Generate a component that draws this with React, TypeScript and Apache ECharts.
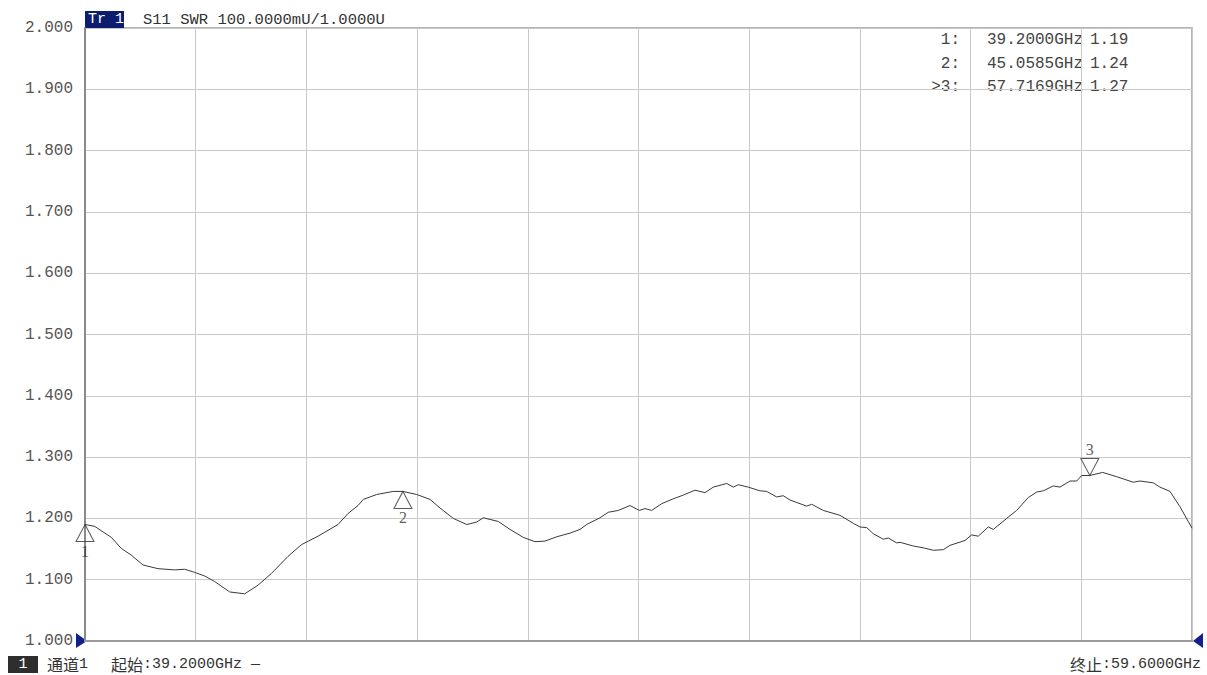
import React, { useEffect, useRef } from "react";
import * as echarts from "echarts";

// Trace: frequency (GHz) and SWR values
const freqs = [
  39.2, 39.379, 39.532, 39.685, 39.869, 40.053, 40.269, 40.545, 40.853, 41.037,
  41.222, 41.406, 41.59, 41.867, 42.143, 42.388, 42.633, 42.941, 43.186, 43.494,
  43.862, 44.047, 44.231, 44.329, 44.575, 44.881, 45.0585, 45.313, 45.558, 45.742,
  45.987, 46.234, 46.418, 46.54, 46.816, 47.032, 47.277, 47.493, 47.677, 47.892,
  48.138, 48.322, 48.445, 48.69, 48.843, 49.028, 49.243, 49.415, 49.52, 49.643,
  49.827, 50.041, 50.225, 50.441, 50.625, 50.778, 51.025, 51.147, 51.239, 51.423,
  51.639, 51.762, 51.947, 52.068, 52.192, 52.499, 52.592, 52.805, 53.113, 53.358,
  53.482, 53.605, 53.727, 53.911, 54.003, 54.158, 54.219, 54.464, 54.648, 54.832,
  55.017, 55.14, 55.417, 55.54, 55.662, 55.846, 55.938, 56.185, 56.369, 56.583,
  56.738, 56.86, 57.044, 57.167, 57.352, 57.475, 57.567, 57.7169, 57.954, 58.212,
  58.518, 58.642, 58.887, 59.01, 59.194, 59.379, 59.6,
];
const swr = [
  1.19, 1.187, 1.178, 1.169, 1.151, 1.14, 1.124, 1.118, 1.116, 1.117,
  1.112, 1.106, 1.097, 1.08, 1.077, 1.091, 1.11, 1.138, 1.157, 1.171,
  1.19, 1.208, 1.221, 1.231, 1.239, 1.244, 1.244, 1.239, 1.231, 1.217,
  1.2, 1.19, 1.194, 1.201, 1.195, 1.182, 1.169, 1.162, 1.163, 1.17,
  1.176, 1.182, 1.19, 1.201, 1.21, 1.213, 1.221, 1.213, 1.216, 1.213,
  1.224, 1.232, 1.238, 1.246, 1.242, 1.251, 1.257, 1.251, 1.255, 1.251,
  1.245, 1.244, 1.235, 1.237, 1.23, 1.22, 1.223, 1.213, 1.205, 1.192,
  1.186, 1.185, 1.175, 1.166, 1.168, 1.16, 1.161, 1.155, 1.152, 1.148,
  1.149, 1.156, 1.164, 1.173, 1.171, 1.186, 1.182, 1.2, 1.213, 1.234,
  1.243, 1.245, 1.253, 1.251, 1.261, 1.261, 1.27, 1.27, 1.275, 1.268,
  1.259, 1.261, 1.258, 1.251, 1.244, 1.219, 1.184,
];

// Markers
const markerIds = ["1", "2", "3"];
const markerFreqs = [39.2, 45.0585, 57.7169];
const markerSwr = [1.19, 1.244, 1.27];
const markerDown = [false, false, true];
const activeMarker = 2;

// Axis settings
const startFreq = 39.2;
const stopFreq = 59.6;
const yMin = 1.0;
const yMax = 2.0;
const yStep = 0.1;
const xDivisions = 10;

const MONO = "'Liberation Mono', 'Noto Sans CJK SC', monospace";
const CJK = "'Noto Sans CJK SC', sans-serif";

export default function App() {
  const ref = useRef<HTMLDivElement>(null);

  useEffect(() => {
    if (!ref.current) return;
    const chart = echarts.init(ref.current, null, { renderer: "svg" });

    const gridLeft = 85;
    const gridTop = 28;
    const gridRight = 15;
    const gridBottom = 34;
    const W = 1207;
    const H = 675;
    const plotRight = W - gridRight;
    const plotBottom = H - gridBottom;

    const trace = freqs.map((f, i) => [f, swr[i]]);

    const markerData = markerFreqs.map((f, i) => ({
      value: [f, markerSwr[i]],
      name: markerIds[i],
      symbol: markerDown[i]
        ? "path://M0,0L18,0L9,17Z"
        : "path://M9,0L18,17L0,17Z",
      symbolOffset: [0, markerDown[i] ? -8.5 : 8.5],
      label: {
        position: markerDown[i] ? "top" : "bottom",
        distance: 1,
      },
    }));

    // Marker readout table
    const tableTexts: any[] = [];
    markerIds.forEach((id, i) => {
      const y = 40 + i * 23.5;
      const base = { verticalAlign: "middle", font: `16px ${MONO}`, fill: "#444" };
      tableTexts.push({
        type: "text",
        x: 960,
        y,
        style: { ...base, text: (i === activeMarker ? ">" : "") + id + ":", align: "right" },
      });
      tableTexts.push({
        type: "text",
        x: 987,
        y,
        style: { ...base, text: markerFreqs[i].toFixed(4) + "GHz", align: "left" },
      });
      tableTexts.push({
        type: "text",
        x: 1090,
        y,
        style: { ...base, text: markerSwr[i].toFixed(2), align: "left" },
      });
    });

    const richStyle = {
      c: { fontFamily: CJK, fontSize: 16, lineHeight: 16, fill: "#333", color: "#333" },
      m: { fontFamily: MONO, fontSize: 15, lineHeight: 16, fill: "#333", color: "#333" },
    };

    const option: any = {
      animation: false,
      backgroundColor: "#ffffff",
      grid: {
        left: gridLeft,
        top: gridTop,
        right: gridRight,
        bottom: gridBottom,
        show: true,
        borderColor: "#9a9a9a",
        borderWidth: 1.5,
      },
      xAxis: [
        {
          type: "value",
          min: startFreq,
          max: stopFreq,
          axisLine: { show: false },
          axisTick: { show: false },
          axisLabel: { show: false },
          splitLine: { show: false },
        },
        {
          type: "value",
          min: 0,
          max: xDivisions,
          interval: 1,
          position: "bottom",
          axisLine: { show: true, lineStyle: { color: "#9a9a9a", width: 2 } },
          axisTick: { show: false },
          axisLabel: { show: false },
          splitLine: { show: true, lineStyle: { color: "#c9c9c9", width: 1 } },
        },
      ],
      yAxis: {
        type: "value",
        min: yMin,
        max: yMax,
        interval: yStep,
        axisLine: { show: true, lineStyle: { color: "#8a8a8a", width: 2 } },
        axisTick: { show: false },
        axisLabel: {
          margin: 12,
          color: "#555",
          fontSize: 16,
          fontFamily: MONO,
          formatter: (v: number) => v.toFixed(3),
        },
        splitLine: { show: true, lineStyle: { color: "#c9c9c9", width: 1 } },
      },
      series: [
        {
          type: "line",
          xAxisIndex: 0,
          data: trace,
          showSymbol: false,
          symbol: "none",
          lineStyle: { color: "#3a3a3a", width: 1 },
          z: 3,
        },
        {
          type: "scatter",
          xAxisIndex: 0,
          data: markerData,
          symbolSize: [18, 17],
          clip: false,
          itemStyle: {
            color: "rgba(255,255,255,0)",
            borderColor: "#333",
            borderWidth: 1,
          },
          label: {
            show: true,
            formatter: (p: any) => p.name,
            color: "#333",
            fontSize: 16,
            fontFamily: "'Liberation Serif', serif",
          },
          z: 4,
        },
      ],
      graphic: [
        {
          type: "rect",
          shape: { x: 85, y: 11, width: 39, height: 17 },
          style: { fill: "#0d1d6e" },
        },
        {
          type: "text",
          x: 88,
          y: 19.5,
          style: {
            text: "Tr 1",
            verticalAlign: "middle",
            font: `15px ${MONO}`,
            fill: "#ffffff",
          },
        },
        {
          type: "text",
          x: 143,
          y: 19.5,
          style: {
            text: "S11 SWR 100.0000mU/1.0000U",
            verticalAlign: "middle",
            font: `15.5px ${MONO}`,
            fill: "#333",
          },
        },
        ...tableTexts,
        {
          type: "polygon",
          shape: {
            points: [
              [76, 633],
              [87, plotBottom],
              [76, 648],
            ],
          },
          style: { fill: "#14208a" },
        },
        {
          type: "polygon",
          shape: {
            points: [
              [1203, 633],
              [plotRight + 1, plotBottom],
              [1203, 648],
            ],
          },
          style: { fill: "#14208a" },
        },
        {
          type: "rect",
          shape: { x: 8, y: 656, width: 30, height: 17 },
          style: { fill: "#2e2e2e" },
        },
        {
          type: "text",
          x: 23,
          y: 664.5,
          style: {
            text: "1",
            align: "center",
            verticalAlign: "middle",
            font: `15px ${MONO}`,
            fill: "#ffffff",
          },
        },
        {
          type: "text",
          x: 47,
          y: 664,
          style: {
            text: "{c|通道}{m|1}",
            rich: richStyle,
            verticalAlign: "middle",
          },
        },
        {
          type: "text",
          x: 111,
          y: 664,
          style: {
            text: "{c|起始}{m|:" + startFreq.toFixed(4) + "GHz —}",
            rich: richStyle,
            verticalAlign: "middle",
          },
        },
        {
          type: "text",
          x: 1201,
          y: 664,
          style: {
            text: "{c|终止}{m|:" + stopFreq.toFixed(4) + "GHz}",
            rich: richStyle,
            align: "right",
            verticalAlign: "middle",
          },
        },
      ],
    };

    chart.setOption(option);
    return () => chart.dispose();
  }, []);

  return (
    <div
      ref={ref}
      style={{ position: "fixed", left: 0, top: 0, width: 1207, height: 675, background: "#fff" }}
    />
  );
}
